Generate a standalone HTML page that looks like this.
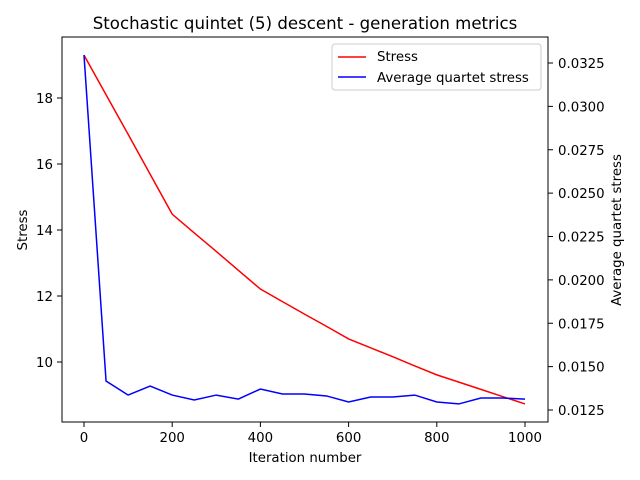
<!DOCTYPE html>
<html><head><meta charset="utf-8"><style>body{margin:0;background:#fff}svg{display:block;font-family:"DejaVu Sans","Liberation Sans",sans-serif}</style></head>
<body>
<svg id="chart" width="640" height="480"></svg>
<script>
const iterations=[0,50,100,150,200,250,300,350,400,450,500,550,600,650,700,750,800,850,900,950,1000];
const stress=[19.30,18.10,16.90,15.69,14.48,13.91,13.35,12.78,12.21,11.83,11.45,11.08,10.70,10.43,10.16,9.88,9.61,9.39,9.17,8.95,8.73];
const quartet=[0.03296,0.01417,0.01336,0.01388,0.01336,0.01308,0.01336,0.01313,0.01371,0.01342,0.01342,0.01331,0.01296,0.01325,0.01325,0.01336,0.01296,0.01285,0.01319,0.01319,0.01313];
const xTicks=[0,200,400,600,800,1000];
const yTicks=[10,12,14,16,18];
const y2Ticks=[0.0125,0.0150,0.0175,0.0200,0.0225,0.0250,0.0275,0.0300,0.0325];
const NS="http://www.w3.org/2000/svg",svg=document.getElementById('chart');
const L=62,R=548,T=37,B=422;
const x=v=>84+v*0.441;
const y=v=>362-(v-10)*33;
const y2=v=>410-(v-0.0125)/0.0025*43.375;
function mk(tag,at,txt){const e=document.createElementNS(NS,tag);for(const k in at)e.setAttribute(k,at[k]);if(txt!==undefined)e.textContent=txt;svg.appendChild(e);return e;}
let e;
e=mk('rect',{x:L,y:T,width:R-L,height:B-T,fill:'none',stroke:'#000','stroke-width':1});


xTicks.forEach(v=>{mk('line',{x1:x(v),x2:x(v),y1:B,y2:B+5,stroke:'#000'});
e=mk('text',{x:x(v),y:B+20,'font-size':13.33,'text-anchor':'middle'},String(v));

});
yTicks.forEach(v=>{mk('line',{x1:L-5,x2:L,y1:y(v),y2:y(v),stroke:'#000'});
e=mk('text',{x:L-9,y:y(v)+5,'font-size':13.33,'text-anchor':'end'},String(v));

});
y2Ticks.forEach(v=>{mk('line',{x1:R,x2:R+5,y1:y2(v),y2:y2(v),stroke:'#000'});
e=mk('text',{x:R+10,y:y2(v)+5,'font-size':13.33},v.toFixed(4));

});
e=mk('polyline',{points:iterations.map((t,i)=>x(t)+','+y(stress[i])).join(' '),fill:'none',stroke:'#f00','stroke-width':1.5});


e=mk('polyline',{points:iterations.map((t,i)=>x(t)+','+y2(quartet[i])).join(' '),fill:'none',stroke:'#00f','stroke-width':1.5});


e=mk('text',{x:305,y:29,'font-size':16.6,'text-anchor':'middle'},'Stochastic quintet (5) descent - generation metrics');


e=mk('text',{x:305,y:462,'font-size':13.33,'text-anchor':'middle'},'Iteration number');


e=mk('text',{x:0,y:0,'font-size':13.33,'text-anchor':'middle',transform:'translate(27,230) rotate(-90)'},'Stress');


e=mk('text',{x:0,y:0,'font-size':13.33,'text-anchor':'middle',transform:'translate(621,230) rotate(-90)'},'Average quartet stress');


e=mk('rect',{x:332,y:44,width:209,height:46,rx:3,fill:'#fff',stroke:'#ccc'});


mk('line',{x1:338,x2:366,y1:57,y2:57,stroke:'#f00','stroke-width':1.5});
e=mk('text',{x:377,y:61,'font-size':13.33},'Stress');


mk('line',{x1:338,x2:366,y1:77,y2:77,stroke:'#00f','stroke-width':1.5});
e=mk('text',{x:377,y:82,'font-size':13.33},'Average quartet stress');


</script>
</body></html>
